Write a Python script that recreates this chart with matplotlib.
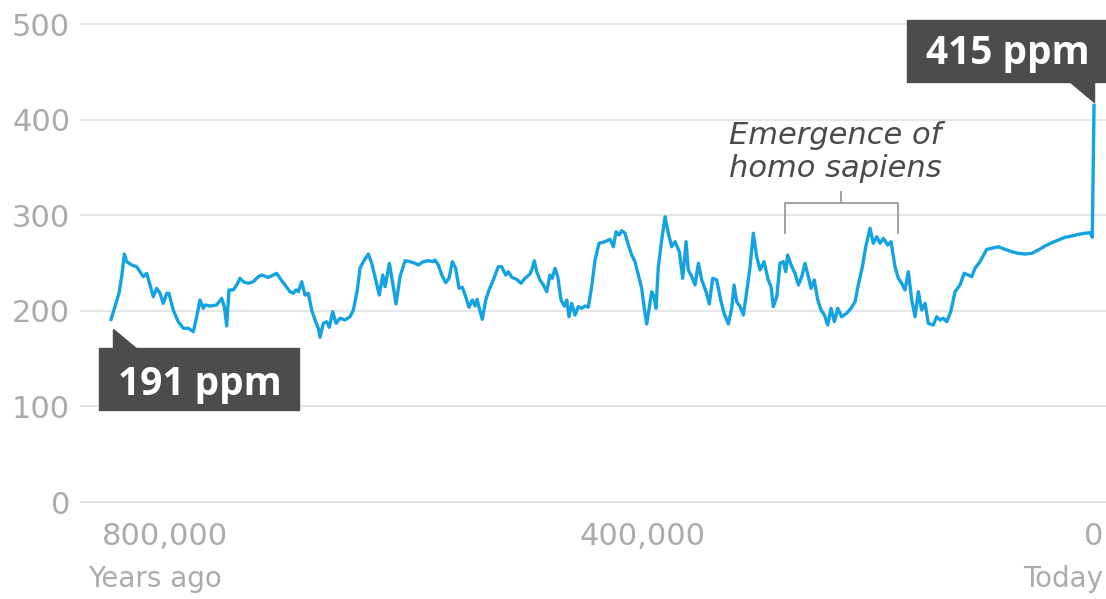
import matplotlib
matplotlib.use("Agg")
import matplotlib.pyplot as plt
from matplotlib.patches import Rectangle, Polygon
import numpy as np

# ---- data ----
kyr_ago = [
    846.5, 843.1, 839.6, 837.3, 835.0, 833.0, 828.7, 824.4, 821.5, 818.7, 815.8, 812.9, 810.1, 807.2, 804.3,
    801.5, 798.5, 796.6, 792.9, 788.6, 784.2, 779.9, 775.6, 772.7, 769.9, 767.0, 765.6, 761.2, 755.5, 751.2,
    748.9, 746.9, 744.9, 741.2, 738.3, 735.4, 732.6, 728.3, 724.0, 719.7, 716.7, 711.0,
    703.8, 701.0, 696.7, 692.4, 689.5, 687.2, 685.2, 682.3, 679.4, 676.6, 673.7, 670.8, 668.0, 666.5, 663.7,
    660.8, 658.5, 655.6, 652.7, 649.3, 645.0, 640.7, 637.8, 634.4, 632.1, 629.2, 624.9, 622.0, 619.2, 615.5,
    612.5, 610.5, 606.8, 603.9, 601.1, 597.6, 593.3, 589.0, 584.7, 581.9, 577.6, 573.3, 569.0,
    567.5, 564.6, 561.7, 558.3, 555.4, 552.6, 549.7, 546.8, 544.0, 541.1, 538.2, 535.4, 533.0, 531.3, 529.6,
    526.8, 523.8, 521.0, 517.3, 513.0, 510.1, 506.6, 504.4, 501.4, 497.1, 493.4, 490.0, 485.7, 483.7, 482.0,
    479.9, 477.1, 474.2, 471.3, 468.5, 466.5, 464.2, 461.8, 459.0, 456.1, 454.1, 452.1, 449.8, 446.9, 444.1,
    441.2, 438.3, 435.5, 432.6, 429.7, 426.3,
    421.1, 416.8, 413.9, 411.6, 408.8, 406.7, 403.9, 401.0, 398.1, 395.3, 392.4, 389.5, 387.5, 385.2, 382.9,
    380.9, 378.9, 377.2, 375.2, 372.3, 369.4, 366.6, 363.7, 360.8, 357.1, 354.2, 351.3, 349.4, 346.4, 343.6,
    340.7, 337.8, 334.1, 331.3, 328.4, 324.9, 321.5, 318.6, 314.9, 312.0, 310.0, 307.7, 304.8, 302.0, 299.7,
    296.2, 293.4, 290.5, 287.6, 284.2,
    280.5, 278.1, 276.2, 273.2, 270.4, 267.6, 265.5, 263.8, 260.9, 257.5, 254.6, 251.7, 248.9, 246.0, 243.7,
    240.9, 237.9, 235.1, 232.2, 229.3, 226.5, 223.6, 220.7, 217.3, 213.0, 209.3, 205.8, 203.0, 199.5, 196.6,
    192.9, 190.1, 187.1, 184.3, 181.4, 177.7, 174.8, 171.4, 168.5, 165.6, 162.8, 159.9, 157.0, 154.1, 151.3,
    148.4, 145.5, 142.7,
    138.4, 135.5, 132.6, 129.8, 126.8, 123.4, 119.7, 115.4, 111.9, 108.2, 105.3, 102.5, 98.2, 92.4, 88.1,
    82.4, 76.6, 70.9, 65.2, 59.4, 53.6, 48.0, 42.2, 36.4, 30.7, 25.0, 19.2, 13.5, 7.8, 3.4, 1.5, 0.0,
]
co2_ppm = [
    191, 204.3, 218.6, 235.7, 259.4, 251.4, 247.9, 246.1, 240.9, 235.7, 239.2, 227.0, 214.7, 223.5, 218.3,
    207.8, 218.3, 218.3, 200.8, 188.6, 181.7, 181.7, 178.1, 193.8, 211.3, 202.6, 206.1, 205.0, 206.1, 213.1,
    204.3, 184.1, 221.8, 221.8, 227.0, 234.0, 230.4, 228.8, 230.4, 235.7, 237.4, 235.0,
    239.2, 234.0, 227.0, 220.0, 218.3, 221.8, 220.0, 230.4, 216.5, 218.3, 200.8, 190.4, 181.7, 172.3, 186.9,
    188.6, 182.7, 199.1, 186.9, 192.2, 190.4, 193.8, 200.8, 221.8, 244.5, 251.4, 259.4, 249.7, 235.7, 216.5,
    237.4, 225.2, 249.7, 228.8, 207.1, 235.7, 252.4, 251.4, 249.7, 247.9, 251.4, 252.4, 251.4,
    253.1, 247.9, 237.4, 229.4, 234.0, 251.4, 244.5, 223.5, 224.6, 214.7, 203.7, 211.3, 205.0, 212.0, 203.7,
    191.1, 211.3, 221.8, 232.2, 246.1, 246.1, 237.4, 240.9, 235.0, 232.9, 228.8, 234.0, 238.5, 244.5, 252.4,
    240.9, 232.2, 227.0, 220.0, 237.4, 234.0, 244.5, 235.7, 211.3, 205.0, 211.3, 193.8, 207.8, 195.6, 204.3,
    202.6, 205.0, 203.7, 225.2, 253.1, 270.6,
    272.3, 274.8, 267.0, 282.7, 279.3, 283.8, 281.1, 268.8, 258.4, 251.4, 237.4, 223.5, 204.3, 186.2, 204.3,
    220.0, 214.7, 202.6, 246.1, 274.1, 298.4, 281.1, 267.0, 272.3, 261.8, 234.0, 272.3, 242.7, 235.7, 227.0,
    249.7, 232.2, 220.0, 207.1, 234.0, 232.2, 211.3, 197.4, 186.2, 202.6, 227.0, 209.5, 204.3, 195.6, 214.7,
    246.1, 281.1, 256.6, 242.7, 251.4,
    232.2, 225.2, 204.3, 214.7, 249.7, 251.4, 240.9, 258.4, 247.9, 239.2, 227.0, 235.7, 249.7, 235.7, 223.5,
    232.2, 211.3, 200.8, 195.6, 185.1, 202.6, 188.6, 202.6, 193.8, 197.4, 202.6, 209.5, 227.0, 246.1, 267.0,
    286.3, 270.6, 277.5, 270.6, 275.8, 268.8, 272.3, 246.1, 234.0, 228.8, 221.8, 240.9, 211.3, 193.8, 220.0,
    200.8, 207.8, 186.9,
    185.1, 193.8, 190.4, 192.2, 188.6, 199.1, 220.0, 227.0, 239.2, 237.4, 235.7, 244.5, 251.4, 264.3, 265.4,
    267.0, 264.3, 261.8, 260.1, 259.4, 260.1, 263.6, 267.8, 271.2, 274.1, 276.9, 278.2, 280.0, 281.1, 281.7,
    276.9, 415,
]
y_ticks = [0, 100, 200, 300, 400, 500]
x_tick_labels = ["800,000", "400,000", "0"]
x_tick_years = [800000, 389000, 0]
start_label = "191 ppm"
end_label = "415 ppm"
note_lines = ["Emergence of", "homo sapiens"]
note_range_years = [266000, 169000]

years_ago = np.array(kyr_ago) * 1000.0

W, H = 1106, 599
fig = plt.figure(figsize=(W / 100, H / 100), dpi=100)
fig.patch.set_facecolor("white")

def fx(px):
    return px / W

def fy(py):
    return 1 - py / H

ax = fig.add_axes([fx(80), fy(506.78), fx(1106) - fx(80), fy(19.22) - fy(506.78)])
ax.set_xlim(873200, -10300)
ax.set_ylim(-5, 505)

ax.plot(years_ago, co2_ppm, color="#13a3e2", lw=2.4, solid_joinstyle="round", zorder=3)

for s in ax.spines.values():
    s.set_visible(False)
ax.set_yticks(y_ticks)
ax.set_yticklabels([str(v) for v in y_ticks])
ax.yaxis.grid(True, color="#e4e4e4", lw=1.3)
ax.set_axisbelow(True)
ax.set_xticks(x_tick_years)
ax.set_xticklabels(x_tick_labels)
ax.tick_params(axis="both", length=0, labelcolor="#ababab", labelsize=22)
ax.tick_params(axis="y", pad=7)
ax.tick_params(axis="x", pad=11)
for lab in ax.get_xticklabels() + ax.get_yticklabels():
    lab.set_family("DejaVu Sans")

# axis captions
fig.text(fx(88), fy(587), "Years ago", color="#ababab", fontsize=20, ha="left", va="baseline")
fig.text(fx(1103), fy(587), "Today", color="#ababab", fontsize=20, ha="right", va="baseline")

# callout boxes
box_color = "#4c4c4e"
fig.patches.append(Rectangle((fx(99), fy(410)), fx(299) - fx(99), fy(348) - fy(410),
                             transform=fig.transFigure, color=box_color, zorder=5))
fig.patches.append(Polygon([(fx(113), fy(329)), (fx(113), fy(349)), (fx(137), fy(349))],
                           closed=True, transform=fig.transFigure, color=box_color, zorder=5))
fig.text(fx(200), fy(395), start_label, color="white", fontsize=28, fontweight="bold",
         family=["Open Sans", "DejaVu Sans"], ha="center", va="baseline", zorder=6)

fig.patches.append(Rectangle((fx(907), fy(82)), fx(1106) - fx(907), fy(20) - fy(82),
                             transform=fig.transFigure, color=box_color, zorder=5))
fig.patches.append(Polygon([(fx(1069), fy(81)), (fx(1094), fy(81)), (fx(1094), fy(102))],
                           closed=True, transform=fig.transFigure, color=box_color, zorder=5))
fig.text(fx(1008), fy(64), end_label, color="white", fontsize=28, fontweight="bold",
         family=["Open Sans", "DejaVu Sans"], ha="center", va="baseline", zorder=6)

# Emergence of homo sapiens note + bracket
fig.text(fx(835), fy(144), note_lines[0], color="#4a4a4a", fontsize=22, style="italic",
         ha="center", va="baseline")
fig.text(fx(835), fy(177), note_lines[1], color="#4a4a4a", fontsize=22, style="italic",
         ha="center", va="baseline")
x0, x1 = note_range_years
xm = (x0 + x1) / 2
br_col = "#9a9a9a"
ax.plot([x0, x0, x1, x1], [281.5, 312.4, 312.4, 281.5], color=br_col, lw=1.3, zorder=2, clip_on=False)
ax.plot([xm, xm], [312.4, 324.0], color=br_col, lw=1.3, zorder=2, clip_on=False)

fig.savefig("out.png", dpi=100)
